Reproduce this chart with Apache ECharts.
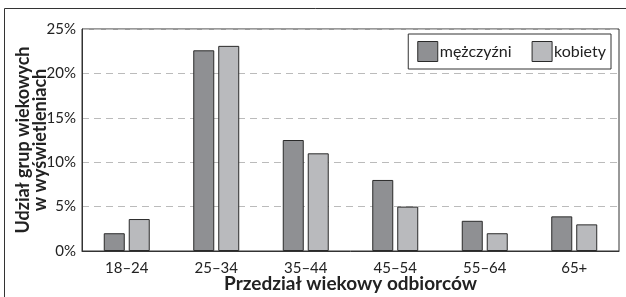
<!DOCTYPE html>
<html>
<head>
<meta charset="utf-8">
<script src="https://cdn.jsdelivr.net/npm/echarts@6/dist/echarts.min.js"></script>
<style>
  html, body { margin: 0; padding: 0; background: #fff; }
  #chart { width: 626px; height: 297px; }
</style>
</head>
<body>
<div id="chart"></div>
<script>
// dane (%)
var categories = ['18–24', '25–34', '35–44', '45–54', '55–64', '65+'];
var mezczyzni = [2.0, 22.6, 12.5, 8.0, 3.4, 3.9];
var kobiety = [3.6, 23.1, 11.0, 5.0, 2.0, 3.0];

var font = 'Lato';
var myChart = echarts.init(document.getElementById('chart'));

var option = {
    backgroundColor: '#fff',
    animation: false,
    textStyle: { fontFamily: font, color: '#222' },
    grid: {
        left: 82, top: 29, right: 7, bottom: 46,
        outerBoundsMode: 'none',
        containLabel: false,
        show: true, borderColor: '#333', borderWidth: 1
    },
    legend: {
        right: 15, top: 34,
        itemWidth: 20, itemHeight: 20, itemGap: 20,
        icon: 'rect',
        padding: [7, 5, 7, 9],
        borderColor: '#333', borderWidth: 1,
        itemStyle: { borderColor: '#2a2a2a', borderWidth: 1 },
        textStyle: { fontFamily: font, fontSize: 16, color: '#222', padding: [0, 0, 0, -3] },
        data: ['mężczyźni', 'kobiety']
    },
    xAxis: {
        type: 'category',
        data: categories,
        name: 'Przedział wiekowy odbiorców',
        nameLocation: 'middle',
        nameMoveOverlap: false,
        nameGap: 23,
        nameTextStyle: { fontFamily: font, fontSize: 19, fontWeight: 'bold', color: '#222' },
        axisLine: { lineStyle: { color: '#333', width: 1 } },
        axisTick: { show: false },
        axisLabel: { fontSize: 15, color: '#222', margin: 10 }
    },
    yAxis: {
        type: 'value',
        min: 0, max: 25, interval: 5,
        name: 'Udział grup wiekowych\nw wyświetleniach',
        nameLocation: 'middle',
        nameMoveOverlap: false,
        nameGap: 33,
        nameTextStyle: { fontFamily: font, fontSize: 18, fontWeight: 'bold', color: '#222', lineHeight: 17 },
        axisLine: { show: true, lineStyle: { color: '#333', width: 1 } },
        axisTick: { show: false },
        axisLabel: { fontSize: 15, color: '#222', margin: 6, formatter: '{value}%' },
        splitLine: { lineStyle: { color: '#bbb', type: [7, 5], width: 1.2 } }
    },
    series: [
        {
            name: 'mężczyźni', type: 'bar', data: mezczyzni,
            barWidth: 21, barGap: '19%',
            itemStyle: { color: '#8f9093', borderColor: '#2a2a2a', borderWidth: 1 }
        },
        {
            name: 'kobiety', type: 'bar', data: kobiety,
            barWidth: 21,
            itemStyle: { color: '#b9babd', borderColor: '#2a2a2a', borderWidth: 1 }
        }
    ],
    graphic: [
        {
            type: 'polyline',
            shape: { points: [[4.5, 297], [4.5, 8.5], [626, 8.5]] },
            style: { stroke: '#333', lineWidth: 1, fill: null }
        }
    ]
};

myChart.setOption(option);
</script>
</body>
</html>
